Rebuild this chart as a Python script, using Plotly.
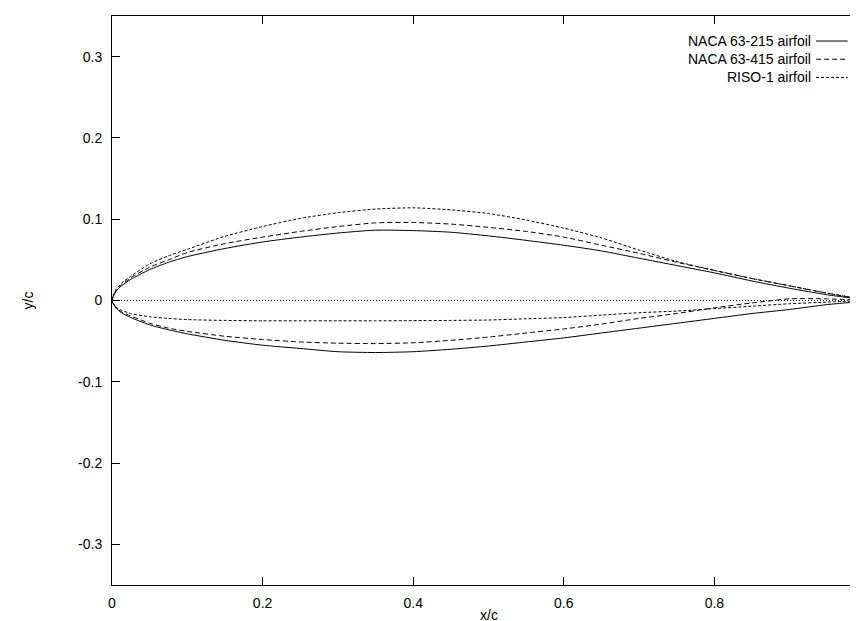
import plotly.graph_objects as go

# ---- data ----
x_stations = [0.0, 0.005, 0.0125, 0.025, 0.05, 0.075, 0.1, 0.15, 0.2, 0.25, 0.3, 0.35,
              0.4, 0.45, 0.5, 0.55, 0.6, 0.65, 0.7, 0.75, 0.8, 0.85, 0.9, 0.95, 1.0]

naca215_upper = [0.0, 0.011, 0.018, 0.026, 0.038, 0.047, 0.054, 0.064, 0.072, 0.078, 0.083, 0.0865,
                 0.086, 0.084, 0.0795, 0.074, 0.068, 0.061, 0.052, 0.043, 0.034, 0.024, 0.015, 0.007, 0.0]
naca215_lower = [0.0, -0.009, -0.015, -0.021, -0.030, -0.036, -0.041, -0.049, -0.055, -0.059, -0.063, -0.064,
                 -0.063, -0.060, -0.056, -0.051, -0.046, -0.040, -0.034, -0.028, -0.022, -0.016, -0.011, -0.005, 0.0]

naca415_upper = [0.0, 0.012, 0.019, 0.028, 0.041, 0.050, 0.059, 0.070, 0.078, 0.085, 0.091, 0.0955,
                 0.096, 0.094, 0.090, 0.085, 0.078, 0.068, 0.058, 0.047, 0.037, 0.027, 0.018, 0.009, 0.001]
naca415_lower = [0.0, -0.008, -0.014, -0.019, -0.028, -0.034, -0.038, -0.044, -0.048, -0.051, -0.0525, -0.053,
                 -0.052, -0.049, -0.045, -0.040, -0.035, -0.029, -0.022, -0.016, -0.009, -0.003, 0.002, 0.002, 0.0]

riso_upper = [0.0, 0.013, 0.021, 0.030, 0.045, 0.055, 0.063, 0.079, 0.091, 0.101, 0.108, 0.1125,
              0.1140, 0.1115, 0.107, 0.099, 0.089, 0.077, 0.062, 0.048, 0.037, 0.027, 0.018, 0.009, 0.001]
riso_lower = [0.0, -0.008, -0.012, -0.016, -0.020, -0.022, -0.0235, -0.0245, -0.025, -0.025, -0.025, -0.025,
              -0.0248, -0.0245, -0.024, -0.0225, -0.021, -0.018, -0.015, -0.013, -0.010, -0.007, -0.004, -0.002, 0.0]

series_names = ["NACA 63-215 airfoil", "NACA 63-415 airfoil", "RISO-1 airfoil"]
x_ticks = [0, 0.2, 0.4, 0.6, 0.8, 1]
x_tick_labels = ["0", "0.2", "0.4", "0.6", "0.8", "1"]
y_ticks = [-0.3, -0.2, -0.1, 0, 0.1, 0.2, 0.3]
y_tick_labels = ["-0.3", "-0.2", "-0.1", "0", "0.1", "0.2", "0.3"]

FONT = "Liberation Sans, Arial, Helvetica, sans-serif"
dashes = ["solid", "5px,3px", "3px,2px"]

fig = go.Figure()
surfaces = [(naca215_upper, naca215_lower), (naca415_upper, naca415_lower), (riso_upper, riso_lower)]
for name, (up, lo), dash in zip(series_names, surfaces, dashes):
    xs = list(reversed(x_stations)) + x_stations[1:]
    ys = list(reversed(up)) + lo[1:]
    fig.add_trace(go.Scatter(x=xs, y=ys, mode="lines", name=name, showlegend=False,
                             line=dict(color="black", width=1, dash=dash, shape="spline", smoothing=0.6)))

# dotted zero axis
fig.add_shape(type="line", xref="x domain", x0=0, x1=1, yref="y", y0=0, y1=0,
              line=dict(color="black", width=1, dash="1px,2px"))

# gnuplot-style legend (text right, sample on the right)
row_y = [0.956, 0.924, 0.892]
for name, dash, ry in zip(series_names, dashes, row_y):
    fig.add_annotation(xref="paper", yref="paper", x=0.931, y=ry, text=name, showarrow=False,
                       xanchor="right", yanchor="middle", font=dict(family=FONT, size=14, color="black"))
    fig.add_shape(type="line", xref="paper", yref="paper", x0=0.935, x1=0.977, y0=ry, y1=ry,
                  line=dict(color="black", width=1, dash=dash))

fig.add_annotation(xref="paper", yref="paper", x=-0.1116, y=0.5, text="y/c", textangle=-90,
                   showarrow=False, xanchor="center", yanchor="middle",
                   font=dict(family=FONT, size=14, color="black"))
fig.add_annotation(xref="paper", yref="paper", x=0.5, y=-0.0525, text="x/c",
                   showarrow=False, xanchor="center", yanchor="middle",
                   font=dict(family=FONT, size=14, color="black"))

axis_common = dict(showline=True, linecolor="black", linewidth=1, mirror="ticks",
                   ticks="inside", ticklen=8, tickcolor="black", tickwidth=1,
                   showgrid=False, zeroline=False, ticklabeloverflow="allow", automargin=False,
                   tickfont=dict(family=FONT, size=14, color="black"))
fig.update_xaxes(range=[0, 1], tickvals=x_ticks, ticktext=x_tick_labels, ticklabelstandoff=5, **axis_common)
fig.update_yaxes(range=[-0.35, 0.35], tickvals=y_ticks, ticktext=y_tick_labels, ticklabelstandoff=6, **axis_common)

fig.update_layout(width=858, height=621, margin=dict(l=104, r=1, t=8, b=44),
                  plot_bgcolor="white", paper_bgcolor="white",
                  font=dict(family=FONT, size=14, color="black"))

fig.write_html("out.html")
